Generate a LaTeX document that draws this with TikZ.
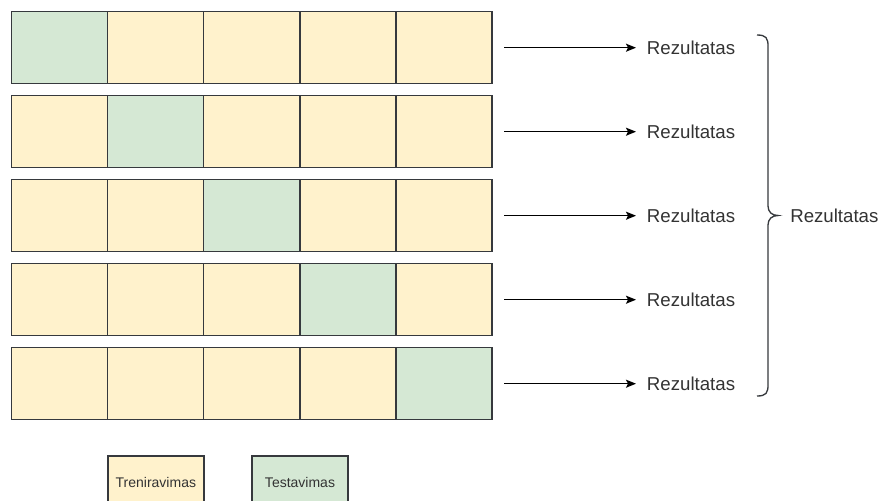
\documentclass[tikz,border=0pt]{standalone}
\usepackage{fontspec}
\setmainfont{Liberation Sans}
\usetikzlibrary{arrows.meta}
\definecolor{trainfill}{HTML}{FFF2CC}
\definecolor{testfill}{HTML}{D5E8D4}
\definecolor{edgecol}{HTML}{36393D}
\definecolor{txtcol}{HTML}{333333}
\begin{document}
\begin{tikzpicture}[x=0.75pt,y=-0.75pt,
  cell/.style={draw=edgecol, line width=1.1pt, minimum width=72.1pt, minimum height=54pt, inner sep=0pt, outer sep=0pt},
  lab/.style={anchor=west, inner xsep=8pt, inner ysep=0pt, text=txtcol, font=\fontsize{14}{16}\selectfont},
  biglab/.style={anchor=west, inner xsep=9pt, inner ysep=0pt, text=txtcol, font=\fontsize{14}{16}\selectfont},
  legend/.style={cell, minimum height=39pt, text=txtcol, font=\fontsize{10.5}{12}\selectfont},
  arr/.style={draw=black, line width=0.9pt, -{Stealth[length=7.5pt,width=6pt,inset=1.5pt]}},
  bracestyle/.style={draw=edgecol, line width=1pt}
]
\clip (0,0) rectangle (881,500);
\fill[white] (0,0) rectangle (881,500);
\foreach \r in {1,...,5}{
  \foreach \c in {1,...,5}{
    \ifnum\c=\r\def\f{testfill}\else\def\f{trainfill}\fi
    \node[cell, fill=\f] (c-\r-\c) at ({11.5+96.1*(\c-0.5)}, {47.7+84*(\r-1)}) {};
  }
  \node[lab] (res-\r) at (636, {47.7+84*(\r-1)}) {Rezultatas};
  \coordinate (s-\r) at ([xshift=9pt]c-\r-5.east);
  \draw[arr] (s-\r) -- (res-\r.west);
}
\draw[bracestyle] (757,35) .. controls (766,35) and (768,38) .. (768,46)
  -- (768,206) .. controls (768,212) and (772,215.5) .. (778,215.5)
  .. controls (772,215.5) and (768,219) .. (768,225)
  -- (768,385) .. controls (768,393) and (766,396) .. (757,396);
\node[biglab] (total) at (778,215.5) {Rezultatas};
\node[legend, fill=trainfill] (leg-train) at (155.85,482) {Treniravimas};
\node[legend, fill=testfill] (leg-test) at (300,482) {Testavimas};
\end{tikzpicture}
\end{document}
